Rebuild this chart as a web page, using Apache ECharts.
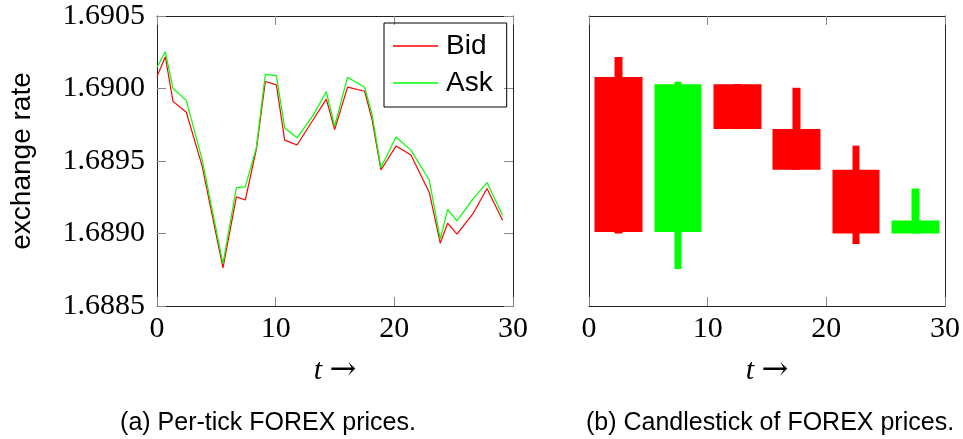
<!DOCTYPE html>
<html>
<head>
<meta charset="utf-8">
<script src="https://cdn.jsdelivr.net/npm/echarts@6/dist/echarts.min.js"></script>
<style>
  html, body { margin: 0; padding: 0; background: #fff; }
  #chart { width: 963px; height: 439px; }
</style>
</head>
<body>
<div id="chart"></div>
<script>
// per-tick prices (left panel)
var tickT = [0, 0.7, 1.35, 2.47, 3.8, 5.56, 6.69, 7.44, 8.37, 9.13, 10.06, 10.76, 11.8, 13.2, 14.27, 14.97,
  16.06, 17.5, 18.12, 18.87, 20.14, 21.4, 22.95, 23.87, 24.49, 25.28, 26.6, 27.81, 29.12];
var bidV = [1.690082, 1.690219, 1.689911, 1.689836, 1.689466, 1.688763, 1.689253, 1.689231, 1.68958, 1.690048,
  1.690025, 1.689644, 1.68961, 1.68979, 1.689927, 1.689717, 1.690009, 1.689981, 1.689787, 1.689438,
  1.689603, 1.689541, 1.689282, 1.688933, 1.689071, 1.688995, 1.689133, 1.68931, 1.689092];
var askV = [1.690146, 1.690253, 1.69, 1.689918, 1.689511, 1.688792, 1.689317, 1.689322, 1.689591, 1.690098,
  1.690089, 1.689728, 1.68966, 1.68982, 1.689979, 1.68974, 1.690078, 1.690009, 1.689821, 1.689454,
  1.689665, 1.689575, 1.689367, 1.688961, 1.689167, 1.689087, 1.689236, 1.689351, 1.689126];

// candlesticks (right panel)
var candleX = [2.5, 7.5, 12.5, 17.5, 22.5, 27.5];
var candleOpen = [1.69008, 1.68901, 1.69003, 1.68972, 1.68944, 1.689];
var candleClose = [1.68901, 1.69003, 1.68972, 1.68944, 1.689, 1.68909];
var candleLow = [1.689, 1.688755, 1.68972, 1.68944, 1.688927, 1.689];
var candleHigh = [1.690218, 1.690046, 1.69003, 1.690005, 1.689606, 1.68931];

var xTicks = [0, 10, 20, 30];
var yTicks = [1.6885, 1.689, 1.6895, 1.69, 1.6905];

var RED = '#ff0000', GREEN = '#00ff00';
var serif = 'Liberation Serif';
var sans = 'Liberation Sans';

var chart = echarts.init(document.getElementById('chart'));

function frameAxis(grid, pos, extra) {
  var vert = pos === 'left' || pos === 'right';
  var a = {
    gridIndex: grid,
    type: 'value',
    position: pos,
    min: vert ? yTicks[0] : xTicks[0],
    max: vert ? yTicks[yTicks.length - 1] : xTicks[xTicks.length - 1],
    interval: vert ? 0.0005 : 10,
    axisLine: { show: true, onZero: false, lineStyle: { color: '#222', width: 1 } },
    axisTick: { show: true, inside: true, length: 9, lineStyle: { color: '#888', width: 1 } },
    axisLabel: { show: false },
    splitLine: { show: false }
  };
  return Object.assign(a, extra || {});
}

var xLabel = {
  show: true, color: '#000', fontFamily: serif, fontSize: 30, margin: 8
};
var xName = {
  name: '{i|t} {a|\u2192}',
  nameLocation: 'middle',
  nameGap: 49,
  nameTextStyle: {
    color: '#000', fontFamily: serif, fontSize: 30,
    rich: {
      i: { fontStyle: 'italic', fontFamily: serif, fontSize: 30, color: '#000' },
      a: { fontFamily: 'DejaVu Serif', fontSize: 32, color: '#000' }
    }
  }
};

chart.setOption({
  animation: false,
  grid: [
    { left: 157, right: 450, top: 16, bottom: 133 },
    { left: 589, right: 18, top: 16, bottom: 133 }
  ],
  legend: {
    orient: 'vertical',
    left: 384,
    top: 23,
    padding: [9, 14, 10, 9],
    itemWidth: 45,
    itemHeight: 1.4,
    itemGap: 9,
    borderColor: '#000',
    borderWidth: 1,
    textStyle: { fontFamily: sans, fontSize: 28, color: '#000', padding: [0, 0, 0, 3] },
    data: [
      { name: 'Bid', icon: 'rect', itemStyle: { color: RED } },
      { name: 'Ask', icon: 'rect', itemStyle: { color: GREEN } }
    ]
  },
  xAxis: [
    frameAxis(0, 'bottom', Object.assign({ axisLabel: xLabel }, xName)),
    frameAxis(0, 'top'),
    frameAxis(1, 'bottom', Object.assign({ axisLabel: xLabel }, xName)),
    frameAxis(1, 'top')
  ],
  yAxis: [
    frameAxis(0, 'left', {
      name: 'exchange rate',
      nameLocation: 'middle',
      nameGap: 121,
      nameTextStyle: { fontFamily: sans, fontSize: 28, color: '#000' },
      axisLabel: {
        show: true, color: '#000', fontFamily: serif, fontSize: 30, margin: 12,
        formatter: function (v) { return v.toFixed(4); }
      }
    }),
    frameAxis(0, 'right'),
    frameAxis(1, 'left', { axisTick: { show: false } }),
    frameAxis(1, 'right', { axisTick: { show: false } })
  ],
  series: [
    {
      name: 'Bid',
      type: 'line',
      xAxisIndex: 0, yAxisIndex: 0,
      symbol: 'none',
      color: RED,
      lineStyle: { color: RED, width: 1.2 },
      data: tickT.map(function (t, i) { return [t, bidV[i]]; })
    },
    {
      name: 'Ask',
      type: 'line',
      xAxisIndex: 0, yAxisIndex: 0,
      symbol: 'none',
      color: GREEN,
      lineStyle: { color: GREEN, width: 1.2 },
      data: tickT.map(function (t, i) { return [t, askV[i]]; })
    },
    {
      // wicks
      type: 'candlestick',
      xAxisIndex: 2, yAxisIndex: 2,
      barWidth: 8,
      itemStyle: { borderWidth: 0 },
      data: candleX.map(function (x, i) {
        var c = candleClose[i] >= candleOpen[i] ? GREEN : RED;
        return {
          value: [x, candleLow[i], candleHigh[i], candleLow[i], candleHigh[i]],
          itemStyle: { color: c, color0: c, borderWidth: 0 }
        };
      })
    },
    {
      // bodies
      type: 'candlestick',
      xAxisIndex: 2, yAxisIndex: 2,
      barWidth: 48,
      itemStyle: { color: GREEN, color0: RED, borderColor: GREEN, borderColor0: RED, borderWidth: 0 },
      data: candleX.map(function (x, i) {
        return [x, candleOpen[i], candleClose[i], candleLow[i], candleHigh[i]];
      })
    }
  ],
  graphic: [
    {
      type: 'text', x: 268, y: 423,
      style: { text: '(a) Per-tick FOREX prices.', fontFamily: sans, fontSize: 25, fill: '#000', textAlign: 'center', textVerticalAlign: 'middle' }
    },
    {
      type: 'text', x: 770, y: 423,
      style: { text: '(b) Candlestick of FOREX prices.', fontFamily: sans, fontSize: 25, fill: '#000', textAlign: 'center', textVerticalAlign: 'middle' }
    }
  ]
});
</script>
</body>
</html>
